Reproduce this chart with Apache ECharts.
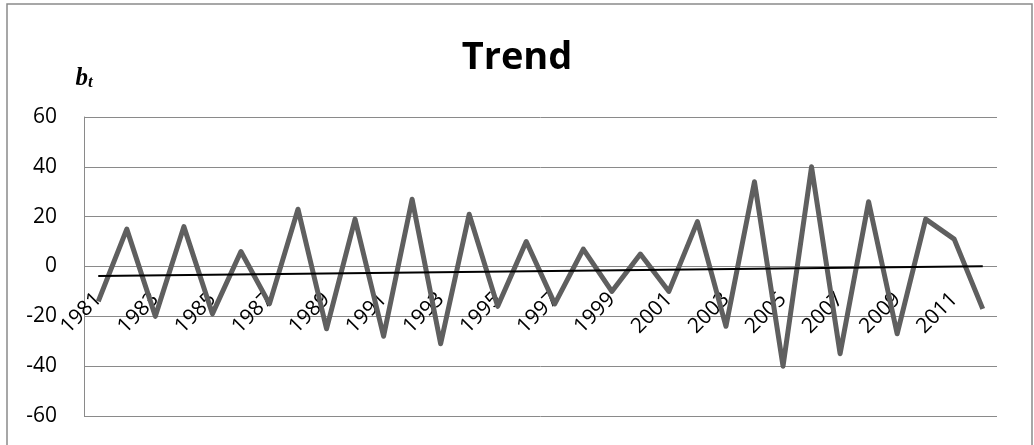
<!DOCTYPE html>
<html>
<head>
<meta charset="utf-8">
<title>Trend</title>
<script src="https://cdn.jsdelivr.net/npm/echarts@6/dist/echarts.min.js"></script>
<style>
  html, body { margin: 0; padding: 0; background: #ffffff; }
  #chart { width: 1034px; height: 445px; }
</style>
</head>
<body>
<div id="chart"></div>
<script>
// Years on the category axis
const years = [
  '1981','1982','1983','1984','1985','1986','1987','1988','1989','1990',
  '1991','1992','1993','1994','1995','1996','1997','1998','1999','2000',
  '2001','2002','2003','2004','2005','2006','2007','2008','2009','2010',
  '2011','2012'
];

// b_t values per year
const btValues = [
  -14, 15, -20, 16, -19, 6, -15, 23, -25, 19,
  -28, 27, -31, 21, -16, 10, -15, 7, -10, 5,
  -10, 18, -24, 34, -40, 40, -35, 26, -27, 19,
  11, -17
];

// Linear trend line end points
const trendStart = -3.8;
const trendEnd = 0.1;

// Value axis ticks
const yTicks = [-60, -40, -20, 0, 20, 40, 60];

const gridColor = '#8a8a8a';
const labelFont = 'Open Sans';

const chart = echarts.init(document.getElementById('chart'), null, { renderer: 'canvas' });

chart.setOption({
  animation: false,
  backgroundColor: '#ffffff',
  title: {
    text: 'Trend',
    left: 'center',
    top: 34,
    textStyle: {
      fontFamily: labelFont,
      fontWeight: 'bold',
      fontSize: 38,
      color: '#000000'
    }
  },
  grid: {
    left: 84,
    right: 37,
    top: 117,
    bottom: 29,
    containLabel: false,
    outerBoundsMode: 'none'
  },
  xAxis: {
    type: 'category',
    data: years,
    boundaryGap: true,
    // the category axis crosses the value axis at 0 (middle of the plot)
    offset: -150,
    axisLine: { show: false, onZero: false },
    axisTick: { show: false },
    splitLine: { show: false },
    axisLabel: {
      interval: 1,
      rotate: 45,
      margin: 30,
      fontFamily: labelFont,
      fontSize: 21,
      color: '#000000'
    }
  },
  yAxis: {
    type: 'value',
    min: yTicks[0],
    max: yTicks[yTicks.length - 1],
    interval: yTicks[1] - yTicks[0],
    name: '{b|b}{t|t}',
    nameLocation: 'end',
    nameGap: 26,
    nameTextStyle: {
      rich: {
        b: {
          fontFamily: 'Liberation Serif',
          fontStyle: 'italic',
          fontWeight: 'bold',
          fontSize: 25,
          color: '#000000',
          verticalAlign: 'bottom'
        },
        t: {
          fontFamily: 'Liberation Serif',
          fontStyle: 'italic',
          fontWeight: 'bold',
          fontSize: 17,
          color: '#000000',
          verticalAlign: 'bottom'
        }
      }
    },
    axisLine: { show: true, lineStyle: { color: gridColor, width: 1 } },
    axisTick: { show: false },
    splitLine: { show: true, lineStyle: { color: gridColor, width: 1 } },
    axisLabel: {
      margin: 27,
      fontFamily: labelFont,
      fontSize: 21,
      color: '#000000'
    }
  },
  series: [
    {
      name: 'bt',
      type: 'line',
      data: btValues,
      symbol: 'none',
      lineStyle: { color: '#5f5f5f', width: 5, join: 'round' },
      z: 3
    },
    {
      name: 'trend',
      type: 'line',
      data: [[years[0], trendStart], [years[years.length - 1], trendEnd]],
      symbol: 'none',
      lineStyle: { color: '#000000', width: 2 },
      z: 4
    }
  ],
  graphic: [
    {
      type: 'rect',
      shape: { x: 7, y: 4, width: 1025, height: 450 },
      style: { fill: 'none', stroke: '#8a8a8a', lineWidth: 1.5 },
      silent: true,
      z: -1
    }
  ]
});
</script>
</body>
</html>
